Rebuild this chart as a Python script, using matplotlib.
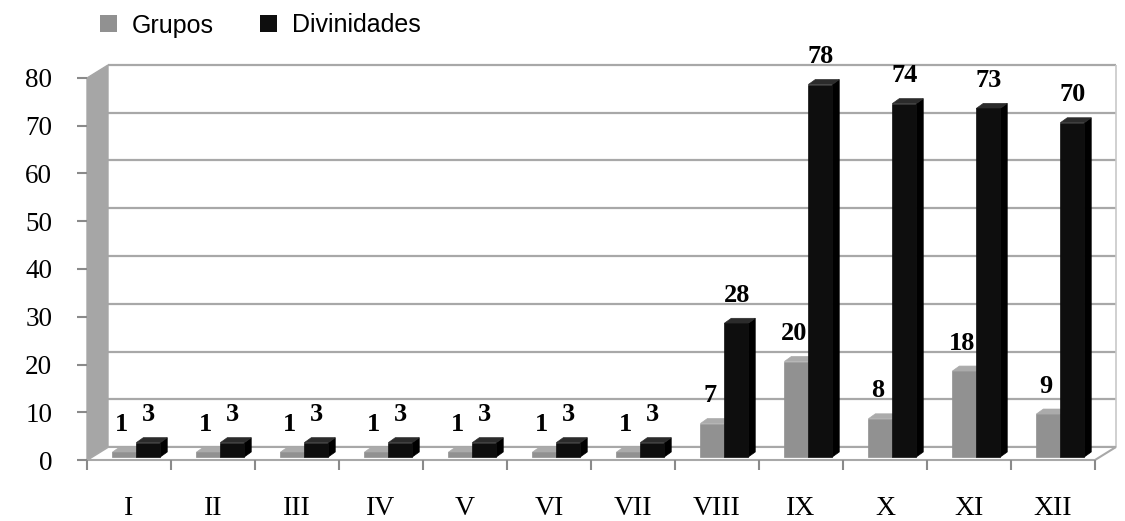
import matplotlib
matplotlib.use("Agg")
import matplotlib.pyplot as plt
from matplotlib.patches import Polygon, Patch
from matplotlib.transforms import IdentityTransform, ScaledTranslation
import numpy as np

categories = ["I", "II", "III", "IV", "V", "VI", "VII", "VIII", "IX", "X", "XI", "XII"]
grupos = [1, 1, 1, 1, 1, 1, 1, 7, 20, 8, 18, 9]
divinidades = [3, 3, 3, 3, 3, 3, 3, 28, 78, 74, 73, 70]
y_ticks = [0, 10, 20, 30, 40, 50, 60, 70, 80]
series_names = ["Grupos", "Divinidades"]

GRAY_FRONT, GRAY_SIDE, GRAY_TOP = "#919191", "#727272", "#ababab"
BLK_FRONT, BLK_SIDE, BLK_TOP = "#0e0e0e", "#000000", "#2b2b2b"
WALL = "#a6a6a6"
GRID = "#a8a8a8"

DPI = 100
fig = plt.figure(figsize=(11.25, 5.21), dpi=DPI)
W, H = 1125, 521
# front plane: x 87..1095, y(from top) 460..78
ax = fig.add_axes([87 / W, 61 / H, 1008 / W, 382 / H])
ax.set_xlim(0, len(categories))
ax.set_ylim(0, 80)
for s in ax.spines.values():
    s.set_visible(False)
ax.patch.set_visible(False)

DX, DY = 21, 13  # depth of the plot box (pixels)
back = ax.transData + ScaledTranslation(DX / DPI, DY / DPI, fig.dpi_scale_trans)

def disp(x, y):
    return ax.transData.transform((x, y))

ncat = len(categories)
# left wall
p00 = disp(0, 0); p080 = disp(0, 80)
wall = Polygon([p00, p080, p080 + [DX, DY], p00 + [DX, DY]], closed=True,
               facecolor=WALL, edgecolor=WALL, lw=1, transform=IdentityTransform(),
               zorder=1, clip_on=False)
ax.add_patch(wall)
# floor
p120 = disp(ncat, 0)
floor = Polygon([p00, p120, p120 + [DX, DY], p00 + [DX, DY]], closed=True,
                facecolor="white", edgecolor=GRID, lw=1.5, transform=IdentityTransform(),
                zorder=1, clip_on=False)
ax.add_patch(floor)
# back grid
ax.hlines(y_ticks, 0, ncat, colors=GRID, lw=1.6, transform=back, zorder=0.5, clip_on=False)
ax.vlines([ncat], 0, 80, colors="#c8c8c8", lw=1.2, transform=back, zorder=0.5, clip_on=False)

# ticks
ax.set_yticks(y_ticks)
ax.set_yticklabels([str(v) for v in y_ticks], fontsize=19.5, family="Liberation Serif")
ax.tick_params(axis="y", length=7, width=1.5, color="#8a8a8a", pad=18, direction="out")
ax.set_xticks(np.arange(ncat + 1))
ax.set_xticklabels([])
ax.tick_params(axis="x", which="major", length=7, width=1.5, color="#8a8a8a", direction="out")
ax.set_xticks(np.arange(ncat) + 0.5, minor=True)
ax.set_xticklabels(categories, minor=True, fontsize=20, family="Liberation Serif")
ax.tick_params(axis="x", which="minor", length=0, pad=26)

BW = 0.285
BDX, BDY = 1, 3   # bar base offset from the front plane
SDX, SDY = 7, 5   # bar depth

def bar3d(x0, v, front, side, top, z):
    x1 = x0 + BW
    a = disp(x0, 0) + [BDX, BDY]
    b = disp(x1, 0) + [BDX, BDY]
    c = disp(x1, v) + [BDX, BDY]
    d = disp(x0, v) + [BDX, BDY]
    o = np.array([SDX, SDY])
    kw = dict(closed=True, transform=IdentityTransform(), zorder=z, lw=0.5, clip_on=False)
    ax.add_patch(Polygon([b, c, c + o, b + o], facecolor=side, edgecolor=side, **kw))
    ax.add_patch(Polygon([d, c, c + o, d + o], facecolor=top, edgecolor=top, **kw))
    ax.add_patch(Polygon([a, b, c, d], facecolor=front, edgecolor=front, **kw))

lab = dict(ha="center", va="bottom", fontsize=19, fontweight="bold",
           family="Liberation Serif", textcoords="offset points", zorder=10)
for i in range(ncat):
    gx = i + 0.29
    kx = gx + BW
    bar3d(gx, grupos[i], GRAY_FRONT, GRAY_SIDE, GRAY_TOP, 3)
    bar3d(kx, divinidades[i], BLK_FRONT, BLK_SIDE, BLK_TOP, 4)
    ax.annotate(str(grupos[i]), xy=(gx + BW / 2, grupos[i]), xytext=(-1, 14), **lab)
    ax.annotate(str(divinidades[i]), xy=(kx + BW / 2, divinidades[i]), xytext=(1, 14), **lab)

handles = [Patch(facecolor=GRAY_FRONT, edgecolor="none"), Patch(facecolor=BLK_FRONT, edgecolor="none")]
fig.legend(handles, series_names, loc="upper left", bbox_to_anchor=(77 / W, 1 + 9 / H),
           ncol=2, frameon=False, handlelength=0.68, handleheight=0.68,
           handletextpad=0.6, columnspacing=1.85, prop={"family": "Liberation Sans", "size": 18})

fig.savefig("out.png", dpi=DPI)
